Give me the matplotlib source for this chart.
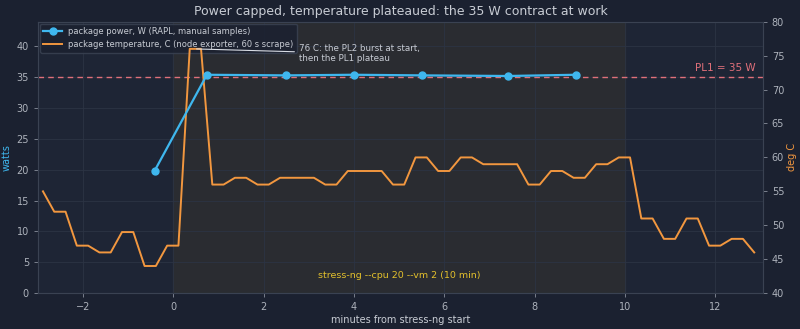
import matplotlib
matplotlib.use("Agg")
import matplotlib.pyplot as plt

# power samples (minutes, watts)
power_t = [-0.42, 0.74, 2.49, 4.0, 5.5, 7.4, 8.91]
power_w = [19.8, 35.4, 35.3, 35.4, 35.3, 35.2, 35.4]

# temperature samples (minutes, deg C)
temp_t = [-2.89, -2.64, -2.39, -2.14, -1.89, -1.64, -1.39, -1.14, -0.89, -0.64,
          -0.39, -0.14, 0.11, 0.36, 0.61, 0.86, 1.11, 1.36, 1.61, 1.86,
          2.11, 2.36, 2.61, 2.86, 3.11, 3.36, 3.61, 3.86, 4.11, 4.36,
          4.61, 4.86, 5.11, 5.36, 5.61, 5.86, 6.11, 6.36, 6.61, 6.86,
          7.11, 7.36, 7.61, 7.86, 8.11, 8.36, 8.61, 8.86, 9.11, 9.36,
          9.61, 9.86, 10.11, 10.36, 10.61, 10.86, 11.11, 11.36, 11.61, 11.86,
          12.11, 12.36, 12.61, 12.86]
temp_c = [55, 52, 52, 47, 47, 46, 46, 49, 49, 44,
          44, 47, 47, 76, 76, 56, 56, 57, 57, 56,
          56, 57, 57, 57, 57, 56, 56, 58, 58, 58,
          58, 56, 56, 60, 60, 58, 58, 60, 60, 59,
          59, 59, 59, 56, 56, 58, 58, 57, 57, 59,
          59, 60, 60, 51, 51, 48, 48, 51, 51, 47,
          47, 48, 48, 46]

x_ticks = [-2, 0, 2, 4, 6, 8, 10, 12]
x_ticklabels = ["\u22122", "0", "2", "4", "6", "8", "10", "12"]
pl1 = 35
stress_start, stress_end = 0, 10

BG = "#1b2130"
AX_BG = "#1e2535"
SPAN = "#2a2c31"
TXT = "#c8ccd4"
BLUE = "#3fb7ee"
ORANGE = "#f2973f"
RED = "#e0707a"
GOLD = "#e3c02c"
GRID = "#2c3444"
SPINE = "#3a4252"

plt.rcParams['font.family'] = ['DejaVu Sans']
fig = plt.figure(figsize=(8, 3.29), dpi=100, facecolor=BG)
ax = fig.add_axes([0.0475, 0.109, 0.906, 0.825])
ax.set_facecolor(AX_BG)
ax2 = ax.twinx()
ax2.patch.set_visible(False)

ax.axvspan(stress_start, stress_end, color=SPAN, zorder=0)
ax.grid(True, color=GRID, linewidth=0.6, zorder=0.5)
ax.set_axisbelow(True)

ax.axhline(pl1, color=RED, linestyle=(0, (4, 3)), linewidth=1.0, zorder=1)
ax.text(12.9, pl1 + 0.7, "PL1 = 35 W", color=RED, ha="right", va="bottom", fontsize=7.5)

lt, = ax2.plot(temp_t, temp_c, color=ORANGE, linewidth=1.4,
               label="package temperature, C (node exporter, 60 s scrape)", zorder=2)
# power drawn on top (in watts coordinates of the left axis)
lp, = ax2.plot(power_t, power_w, color=BLUE, marker="o", markersize=5, linewidth=1.6,
               label="package power, W (RAPL, manual samples)", zorder=3,
               transform=ax.transData)

ax.set_xlim(-3, 13.05)
ax.set_ylim(0, 44)
ax2.set_ylim(40, 80)
ax2.set_xlim(-3, 13.05)
ax.set_xticks(x_ticks)
ax.set_xticklabels(x_ticklabels)

ax.text((stress_start + stress_end) / 2, 2.9, "stress-ng --cpu 20 --vm 2 (10 min)",
        color=GOLD, ha="center", va="center", fontsize=6.8)

ax2.annotate("76 C: the PL2 burst at start,\nthen the PL1 plateau",
             xy=(0.45, 76), xytext=(2.77, 75.3), textcoords="data",
             color=TXT, fontsize=6.3, ha="left", va="center", zorder=5,
             arrowprops=dict(arrowstyle="-", color="#d8dce4", linewidth=0.8,
                             shrinkA=1, shrinkB=2))

ax.set_title("Power capped, temperature plateaued: the 35 W contract at work",
             color=TXT, fontsize=9, pad=4.5)
ax.set_xlabel("minutes from stress-ng start", color=TXT, fontsize=7, labelpad=2)
ax.set_ylabel("watts", color=BLUE, fontsize=7)
ax.yaxis.set_label_coords(-0.036, 0.5)
ax2.set_ylabel("deg C", color=ORANGE, fontsize=7)
ax2.yaxis.set_label_coords(1.034, 0.5)

for a in (ax, ax2):
    a.tick_params(colors="#aeb3bc", labelsize=7, length=3, width=0.6, color="#8a909c")
    for s in a.spines.values():
        s.set_color(SPINE)
        s.set_linewidth(0.8)

leg = ax.legend(handles=[lp, lt], loc="upper left", fontsize=6, frameon=True,
                facecolor=BG, edgecolor=SPINE, labelcolor=TXT, framealpha=0.85,
                borderpad=0.4, handlelength=2.2, borderaxespad=0.25)
leg.set_zorder(10)
fig.savefig("out.png", dpi=100, facecolor=BG)
